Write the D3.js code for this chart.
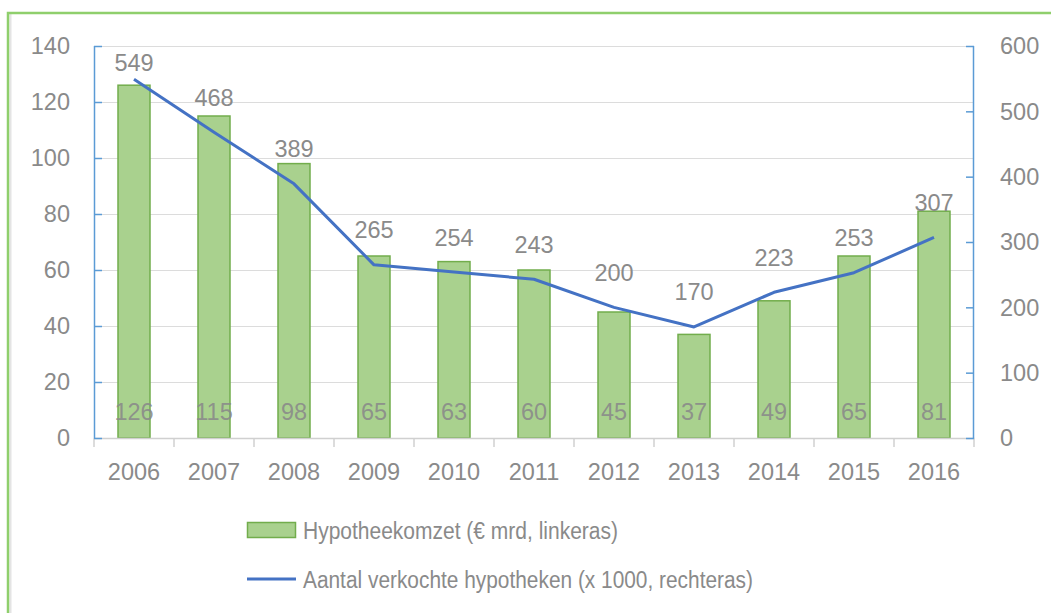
<!DOCTYPE html>
<html><head><meta charset="utf-8">
<script src="https://cdn.jsdelivr.net/npm/d3@7"></script>
<style>html,body{margin:0;padding:0;background:#fff;}svg{display:block;}</style>
</head><body>
<svg id="chart" width="1051" height="613"></svg>
<script>
const years = ["2006","2007","2008","2009","2010","2011","2012","2013","2014","2015","2016"];
const omzet = [126,115,98,65,63,60,45,37,49,65,81];
const aantal = [549,468,389,265,254,243,200,170,223,253,307];
const leftTicks = [0,20,40,60,80,100,120,140];
const rightTicks = [0,100,200,300,400,500,600];
const legendLabels = ["Hypotheekomzet (€ mrd, linkeras)","Aantal verkochte hypotheken (x 1000, rechteras)"];

const svg = d3.select("#chart");
const FONT = "'Liberation Sans', Arial, sans-serif";
const FS = 23.5;
const TXT = "#8a8a8a";
const m = {l:94, r:974, t:46, b:438};

// frame
svg.append("rect").attr("x",0).attr("y",0).attr("width",1051).attr("height",613).attr("fill","#fff");
svg.append("line").attr("x1",10.5).attr("x2",10.5).attr("y1",14).attr("y2",613).attr("stroke","#e4e4e4").attr("stroke-width",2);
svg.append("path").attr("d","M8,613 V13 H1051").attr("fill","none").attr("stroke","#8fcf6c").attr("stroke-width",2.5);

const x = d3.scaleBand().domain(years).range([m.l,m.r]).paddingInner(0.6).paddingOuter(0.3);
const xb = d3.scaleBand().domain(years).range([m.l,m.r]);
const yL = d3.scaleLinear().domain([0,140]).range([m.b,m.t]);
const yR = d3.scaleLinear().domain([0,600]).range([m.b,m.t]);

// gridlines
svg.append("g").selectAll("line").data(leftTicks.filter(d=>d>0)).join("line")
  .attr("x1",m.l).attr("x2",m.r).attr("y1",d=>Math.round(yL(d))+0.5).attr("y2",d=>Math.round(yL(d))+0.5)
  .attr("stroke","#dcdcdc").attr("stroke-width",1.2);

// bars
svg.append("g").selectAll("rect").data(omzet).join("rect")
  .attr("x",(d,i)=>x(years[i])).attr("width",x.bandwidth())
  .attr("y",d=>yL(d)).attr("height",d=>yL(0)-yL(d))
  .attr("fill","#a9d18e").attr("stroke","#72ad4c").attr("stroke-width",1.5);

// bottom axis
const gx = svg.append("g").attr("transform",`translate(0,${m.b})`)
  .call(d3.axisBottom(xb).tickSize(0).tickPadding(25));
gx.select(".domain").attr("stroke","#d0d0d0").attr("stroke-width",1.5);
gx.selectAll("text").attr("font-family",FONT).attr("font-size",FS).attr("fill",TXT).attr("dy","0.71em");
svg.append("g").selectAll("line").data(years.concat(["end"])).join("line")
  .attr("x1",(d,i)=>m.l+i*xb.step()).attr("x2",(d,i)=>m.l+i*xb.step())
  .attr("y1",m.b).attr("y2",m.b+9).attr("stroke","#d0d0d0").attr("stroke-width",1.5);

// left axis
const gl = svg.append("g").attr("transform",`translate(${m.l},0)`)
  .call(d3.axisRight(yL).tickValues(leftTicks).tickSize(8).tickFormat(""));
gl.select(".domain").attr("stroke","#5b9bd5").attr("stroke-width",1.5).attr("d",`M0.5,${m.t}V${m.b}`);
gl.selectAll(".tick line").attr("stroke","#5b9bd5").attr("stroke-width",1.5);
svg.append("g").selectAll("text").data(leftTicks).join("text")
  .attr("x",70).attr("y",d=>yL(d)).attr("dy","0.36em").attr("text-anchor","end")
  .attr("font-family",FONT).attr("font-size",FS).attr("fill",TXT).text(d=>d);

// right axis
const gr = svg.append("g").attr("transform",`translate(${m.r},0)`)
  .call(d3.axisLeft(yR).tickValues(rightTicks).tickSize(8).tickFormat(""));
gr.select(".domain").attr("stroke","#5b9bd5").attr("stroke-width",1.5).attr("d",`M-0.5,${m.t}V${m.b}`);
gr.selectAll(".tick line").attr("stroke","#5b9bd5").attr("stroke-width",1.5);
svg.append("g").selectAll("text").data(rightTicks).join("text")
  .attr("x",1000).attr("y",d=>yR(d)).attr("dy","0.36em").attr("text-anchor","start")
  .attr("font-family",FONT).attr("font-size",FS).attr("fill",TXT).text(d=>d);

// line
const cx = i => xb(years[i]) + xb.bandwidth()/2;
svg.append("path").datum(aantal)
  .attr("d",d3.line().x((d,i)=>cx(i)).y(d=>yR(d)))
  .attr("fill","none").attr("stroke","#4472c4").attr("stroke-width",3).attr("stroke-linejoin","round");

// bar labels
svg.append("g").selectAll("text").data(omzet).join("text")
  .attr("x",(d,i)=>cx(i)).attr("y",m.b-26).attr("dy","0.36em").attr("text-anchor","middle")
  .attr("font-family",FONT).attr("font-size",FS).attr("fill",TXT).attr("fill-opacity",0.9).text(d=>d);

// line labels
svg.append("g").selectAll("text").data(aantal).join("text")
  .attr("x",(d,i)=>cx(i)).attr("y",d=>Math.max(yR(d)-35, m.t+17)).attr("dy","0.36em").attr("text-anchor","middle")
  .attr("font-family",FONT).attr("font-size",FS).attr("fill",TXT).text(d=>d);

// legend
svg.append("rect").attr("x",247.5).attr("y",522.5).attr("width",48).attr("height",15)
  .attr("fill","#a9d18e").attr("stroke","#72ad4c").attr("stroke-width",1.5);
svg.append("line").attr("x1",247).attr("x2",296).attr("y1",579).attr("y2",579)
  .attr("stroke","#4472c4").attr("stroke-width",3);
svg.append("text").attr("x",303).attr("y",531).attr("dy","0.36em")
  .attr("font-family",FONT).attr("font-size",FS).attr("fill",TXT)
  .attr("textLength",315).attr("lengthAdjust","spacingAndGlyphs").text(legendLabels[0]);
svg.append("text").attr("x",303).attr("y",580).attr("dy","0.36em")
  .attr("font-family",FONT).attr("font-size",FS).attr("fill",TXT)
  .attr("textLength",450).attr("lengthAdjust","spacingAndGlyphs").text(legendLabels[1]);
</script>
</body></html>
